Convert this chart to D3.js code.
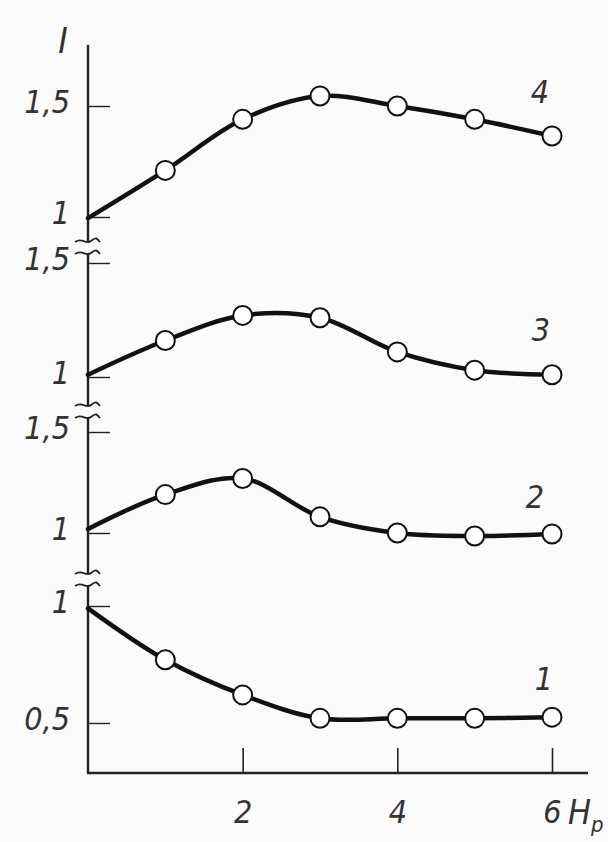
<!DOCTYPE html>
<html>
<head>
<meta charset="utf-8">
<script src="https://cdn.jsdelivr.net/npm/d3@7"></script>
<style>
  html, body { margin: 0; padding: 0; background: #fbfbfb; }
  svg { display: block; }
  .lbl { font-family: "DejaVu Sans Condensed", "DejaVu Sans", sans-serif; font-stretch: condensed; font-style: italic; fill: #333; }
</style>
</head>
<body>
<svg id="chart" width="608" height="842"></svg>
<script>
// Hp values (x axis)
var hp = [0, 1, 2, 3, 4, 5, 6];
var xTicks = [2, 4, 6];

// I values, one series per curve
var curve1 = [0.99, 0.77, 0.62, 0.52, 0.52, 0.52, 0.525];
var curve2 = [1.02, 1.19, 1.27, 1.08, 1.0, 0.985, 0.995];
var curve3 = [1.01, 1.16, 1.27, 1.26, 1.11, 1.03, 1.01];
var curve4 = [0.995, 1.21, 1.44, 1.545, 1.5, 1.44, 1.365];

var ticks1 = [0.5, 1];
var ticks2 = [1, 1.5];
var ticks3 = [1, 1.5];
var ticks4 = [1, 1.5];

var seriesNames = ["1", "2", "3", "4"];

// each curve sits in its own strip of the broken y axis
var panels = [
    {name: seriesNames[0], values: curve1, ticks: ticks1, dom: [0.5, 1], rng: [723, 606], labelAt: [544, 690]},
    {name: seriesNames[1], values: curve2, ticks: ticks2, dom: [1, 1.5], rng: [533, 432], labelAt: [535, 508]},
    {name: seriesNames[2], values: curve3, ticks: ticks3, dom: [1, 1.5], rng: [377, 263], labelAt: [541, 341]},
    {name: seriesNames[3], values: curve4, ticks: ticks4, dom: [1, 1.5], rng: [217, 106], labelAt: [540, 103]}
];

var svg = d3.select("#chart");
var x0 = 88, yBottom = 773, yTop = 45, xEnd = 588;

var x = d3.scaleLinear().domain([0, 6]).range([x0, 552]);

// x axis
var xAxis = svg.append("g")
    .attr("transform", "translate(0," + yBottom + ")")
    .call(d3.axisBottom(x).tickValues(xTicks).tickSizeInner(-25).tickSizeOuter(0).tickPadding(50).tickFormat(d3.format("d")));
xAxis.select(".domain").remove();
xAxis.selectAll("line").attr("stroke", "#222").attr("stroke-width", 1.6);
xAxis.selectAll("text").attr("class", "lbl").attr("font-size", 32).attr("dy", 0);

svg.append("line")
    .attr("x1", x0 - 1).attr("x2", xEnd)
    .attr("y1", yBottom).attr("y2", yBottom)
    .attr("stroke", "#222").attr("stroke-width", 2.4);

// axis titles
svg.append("text").attr("class", "lbl").attr("x", 63).attr("y", 53)
    .attr("text-anchor", "middle").attr("font-size", 36).text("I");
var hpLabel = svg.append("text").attr("class", "lbl").attr("x", 568).attr("y", 824).attr("font-size", 34);
hpLabel.append("tspan").text("H");
hpLabel.append("tspan").attr("dy", 8).attr("font-size", 22).text("p");

// y axis with breaks
var breaks = [[241, 253], [405, 417], [573, 585]];
var segs = [];
var prev = yTop;
breaks.forEach(function (b) {
    segs.push([prev, b[0]]);
    prev = b[1];
});
segs.push([prev, yBottom]);

svg.selectAll(".yseg").data(segs).enter().append("line")
    .attr("class", "yseg")
    .attr("x1", x0).attr("x2", x0)
    .attr("y1", function (d) { return d[0]; })
    .attr("y2", function (d) { return d[1]; })
    .attr("stroke", "#222").attr("stroke-width", 2.4);

var wave = function (y) {
    return "M" + (x0 - 13) + "," + (y + 1) + " C" + (x0 - 6) + "," + (y - 4) + " " + (x0 - 2) + "," + (y + 4) + " " + (x0 + 3) + "," + y +
        " S" + (x0 + 9) + "," + (y - 3) + " " + (x0 + 12) + "," + (y + 1);
};
breaks.forEach(function (b) {
    svg.append("path").attr("d", wave(b[0])).attr("fill", "none").attr("stroke", "#222").attr("stroke-width", 1.8);
    svg.append("path").attr("d", wave(b[1])).attr("fill", "none").attr("stroke", "#222").attr("stroke-width", 1.8);
});

var line = d3.line().curve(d3.curveCatmullRom.alpha(0.5));

panels.forEach(function (p) {
    var y = d3.scaleLinear().domain(p.dom).range(p.rng);

    var ax = svg.append("g")
        .attr("transform", "translate(" + x0 + ",0)")
        .call(d3.axisLeft(y).tickValues(p.ticks).tickSizeInner(-22).tickSizeOuter(0).tickPadding(18)
            .tickFormat(function (d) { return d3.format("")(d).replace(".", ","); }));
    ax.select(".domain").remove();
    ax.selectAll("line").attr("stroke", "#222").attr("stroke-width", 1.4);
    ax.selectAll("text").attr("class", "lbl").attr("font-size", 32).attr("dy", "0.2em");

    var pts = p.values.map(function (v, i) { return [x(hp[i]), y(v)]; });

    svg.append("path")
        .attr("d", line(pts))
        .attr("fill", "none")
        .attr("stroke", "#111")
        .attr("stroke-width", 4.5)
        .attr("stroke-linecap", "round");

    svg.selectAll(null).data(pts.slice(1)).enter().append("circle")
        .attr("cx", function (d) { return d[0]; })
        .attr("cy", function (d) { return d[1]; })
        .attr("r", 9.5)
        .attr("fill", "#fff")
        .attr("stroke", "#111")
        .attr("stroke-width", 2);

    svg.append("text").attr("class", "lbl")
        .attr("x", p.labelAt[0]).attr("y", p.labelAt[1])
        .attr("text-anchor", "middle").attr("font-size", 32)
        .text(p.name);
});
</script>
</body>
</html>
